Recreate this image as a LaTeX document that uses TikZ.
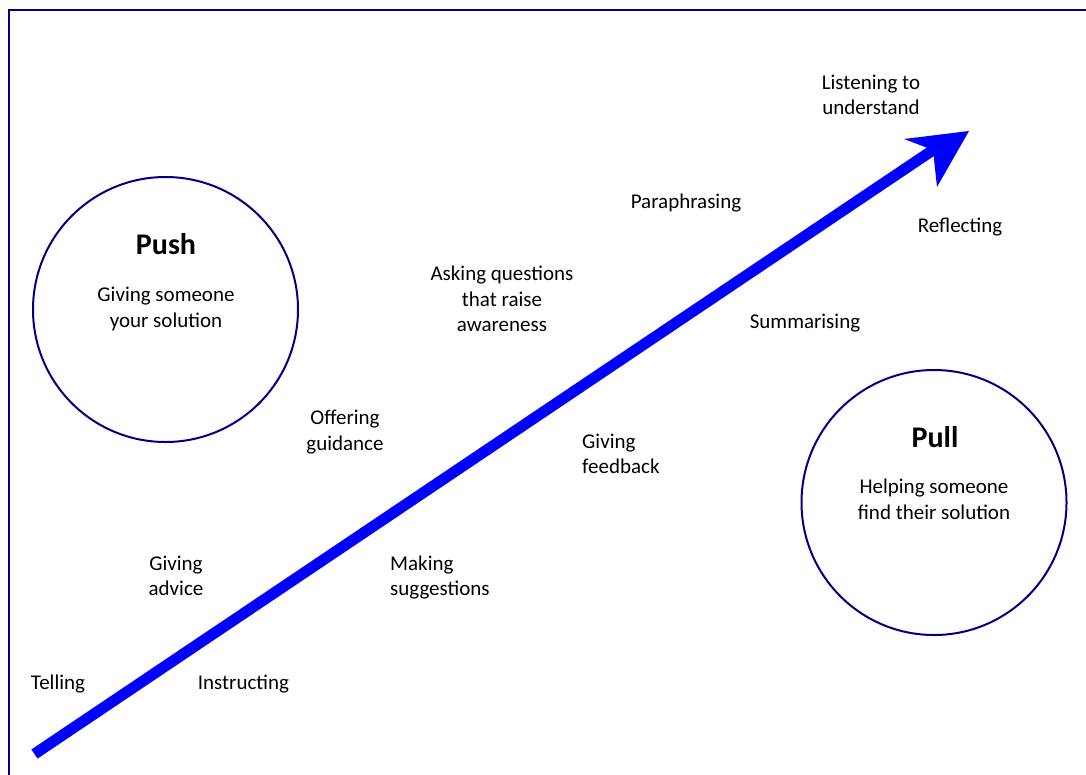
\documentclass[tikz,border=0pt]{standalone}
\usepackage{fontspec}
\setmainfont{Carlito}
\definecolor{navyline}{RGB}{0,0,128}
\definecolor{arrowblue}{RGB}{0,0,255}
\begin{document}
\begin{tikzpicture}[x=1pt,y=-1pt,
  lbl/.style={font=\fontsize{21}{25.5}\selectfont, inner sep=0pt, align=center, text=black},
  lbll/.style={lbl, align=left},
  ttl/.style={font=\fontsize{30}{34}\selectfont\bfseries, inner sep=0pt, text=black},
  ring/.style={circle, draw=navyline, line width=2pt, minimum size=265pt, inner sep=0pt},
  frame/.style={draw=navyline, line width=2.5pt},
  bigarrow/.style={draw=arrowblue, line width=11pt},
  headfill/.style={fill=arrowblue}]
\useasboundingbox (0,0) rectangle (1086,774);
\draw[frame] (9,776) -- (9,10) -- (1088,10);

% circles
\node[ring] (push) at (165.5,309.5) {};
\node[ring] (pull) at (934,502.5) {};
\node[ttl] (pusht) at (166,244) {Push};
\node[lbl] (pushd) at (166,309) {Giving someone\\your solution};
\node[ttl] (pullt) at (935,437.5) {Pull};
\node[lbl] (pulld) at (934,499.5) {Helping someone\\find their solution};

% arrow
\coordinate (start) at (34.5,754);
\coordinate (notch) at (933,150);
\coordinate (tip) at (969,131);
\coordinate (w1) at (904,139);
\coordinate (w2) at (937,187);
\draw[bigarrow] (start) -- (notch);
\fill[headfill] (tip) -- (w1) -- (notch) -- (w2) -- cycle;

% labels
\node[lbl] (listen) at (871,95) {Listening to\\understand};
\node[lbl] (para) at (686,203) {Paraphrasing};
\node[lbl] (refl) at (960,227) {Reflecting};
\node[lbl] (ask) at (502,299) {Asking questions\\that raise\\awareness};
\node[lbl] (summ) at (805,323) {Summarising};
\node[lbl] (offer) at (345,432) {Offering\\guidance};
\node[lbll, anchor=west] (feed) at (582,454) {Giving\\feedback};
\node[lbl] (advice) at (176,576) {Giving\\advice};
\node[lbll, anchor=west] (sugg) at (390,577.5) {Making\\suggestions};
\node[lbl] (tell) at (58,684) {Telling};
\node[lbl] (instr) at (243.5,684) {Instructing};
\end{tikzpicture}
\end{document}
